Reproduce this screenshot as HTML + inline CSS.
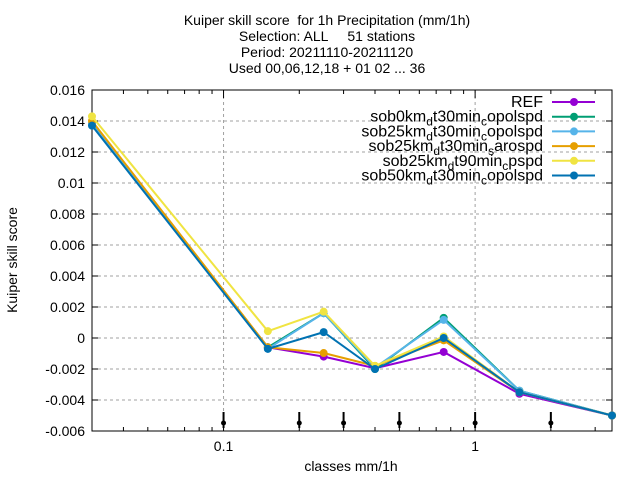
<!DOCTYPE html>
<html><head><meta charset="utf-8"><style>
body{margin:0;background:#fff}
svg{display:block;font-family:"Liberation Sans",sans-serif}
text{white-space:pre}
</style></head><body>
<svg id="chart" width="640" height="480" viewBox="0 0 640 480">
<g font-size="14" text-anchor="middle" fill="#000">
<text x="327" y="25" xml:space="preserve">Kuiper skill score  for 1h Precipitation (mm/1h)</text>
<text x="327" y="41" xml:space="preserve">Selection: ALL     51 stations</text>
<text x="327" y="57">Period: 20211110-20211120</text>
<text x="327" y="73">Used 00,06,12,18 + 01 02 ... 36</text>
</g>
<g id="grid"></g>
<g id="axes"></g>
<g id="series"></g>
<text x="17" y="260" font-size="14" text-anchor="middle" transform="rotate(-90 17 260)">Kuiper skill score</text>
<text x="351" y="471" font-size="14" text-anchor="middle">classes mm/1h</text>
<g id="legend"></g>
</svg>
<script>
const classes=[0.03,0.15,0.25,0.4,0.75,1.5,3.5];
const seriesNames=["REF","sob0km_d t30min_c opolspd","sob25km_d t30min_c opolspd","sob25km_d t30min_s arospd","sob25km_d t90min_c pspd","sob50km_d t30min_c opolspd"];
const seriesColors=["#9400d3","#009e73","#56b4e9","#e69f00","#f0e442","#0072b2"];
const ref=[0.0138,-0.0006,-0.0012,-0.00195,-0.0009,-0.0036,-0.005];
const sob0=[0.0138,-0.0006,0.0016,-0.002,0.0013,-0.0034,-0.005];
const sob25c=[0.0138,-0.0007,0.0016,-0.0019,0.00117,-0.0034,-0.005];
const sob25s=[0.0140,-0.0006,-0.00097,-0.0018,-0.00015,-0.0035,-0.005];
const sob25p=[0.0143,0.00044,0.0017,-0.0018,0.0001,-0.0035,-0.005];
const sob50=[0.0137,-0.0007,0.00038,-0.002,0.0,-0.0035,-0.005];
const allSeries=[ref,sob0,sob25c,sob25s,sob25p,sob50];
const yTicks=[0.016,0.014,0.012,0.01,0.008,0.006,0.004,0.002,0,-0.002,-0.004,-0.006];
const yTickLabels=["0.016","0.014","0.012","0.01","0.008","0.006","0.004","0.002","0","-0.002","-0.004","-0.006"];
const xTicks=[0.1,1];
const xTickLabels=["0.1","1"];
const markerX=[0.1,0.2,0.3,0.5,1,2];
const L=92,R=612,T=90,B=431,xmin=0.03,xmax=3.5,ymin=-0.006,ymax=0.016;
const NS="http://www.w3.org/2000/svg";
function X(v){return L+(Math.log10(v)-Math.log10(xmin))/(Math.log10(xmax)-Math.log10(xmin))*(R-L);}
function Y(v){return B-(v-ymin)/(ymax-ymin)*(B-T);}
function mk(tag,at,parent){const e=document.createElementNS(NS,tag);for(const k in at)e.setAttribute(k,at[k]);parent.appendChild(e);return e;}
const grid=document.getElementById('grid'),axes=document.getElementById('axes'),ser=document.getElementById('series'),leg=document.getElementById('legend');
yTicks.forEach((v,i)=>{
 if(v<ymax&&v>ymin){const g=mk('line',{x1:L,x2:R,y1:Y(v),y2:Y(v),stroke:'#a0a0a0','stroke-dasharray':'3,3'},grid);
 }
 mk('line',{x1:L,x2:L+6,y1:Y(v),y2:Y(v),stroke:'#000'},axes);
 mk('line',{x1:R-6,x2:R,y1:Y(v),y2:Y(v),stroke:'#000'},axes);
 const lb=mk('text',{x:L-7,y:Y(v)+5,'font-size':14,'text-anchor':'end'},axes);lb.textContent=yTickLabels[i];
 
});
xTicks.forEach((v,i)=>{
 const g=mk('line',{x1:X(v),x2:X(v),y1:T,y2:B,stroke:'#a0a0a0','stroke-dasharray':'3,3'},grid);
 
 mk('line',{x1:X(v),x2:X(v),y1:B,y2:B-8,stroke:'#000'},axes);
 mk('line',{x1:X(v),x2:X(v),y1:T,y2:T+8,stroke:'#000'},axes);
 const lb=mk('text',{x:X(v),y:B+20,'font-size':14,'text-anchor':'middle'},axes);lb.textContent=xTickLabels[i];
 
});
[0.04,0.05,0.06,0.07,0.08,0.09,0.2,0.3,0.4,0.5,0.6,0.7,0.8,0.9,2,3].forEach(v=>{
 mk('line',{x1:X(v),x2:X(v),y1:B,y2:B-4,stroke:'#000'},axes);
 mk('line',{x1:X(v),x2:X(v),y1:T,y2:T+4,stroke:'#000'},axes);
});
mk('rect',{x:L,y:T,width:R-L,height:B-T,fill:'none',stroke:'#000'},axes);
markerX.forEach(v=>{
 const m=mk('line',{x1:X(v),x2:X(v),y1:412,y2:428,stroke:'#000','stroke-width':2},axes);
 
 mk('circle',{cx:X(v),cy:423,r:2.5,fill:'#000'},axes);
});
allSeries.forEach((vals,s)=>{
 const g=mk('g',{},ser);
 
 const pts=vals.map((v,i)=>X(classes[i])+','+Y(v)).join(' ');
 mk('polyline',{points:pts,fill:'none',stroke:seriesColors[s],'stroke-width':2},g);
 vals.forEach((v,i)=>{const c=mk('circle',{cx:X(classes[i]),cy:Y(v),r:4,fill:seriesColors[s]},g);
  });
});
seriesNames.forEach((n,s)=>{
 const y=102+s*14.7;
 const g=mk('g',{},leg);
 
 const t=mk('text',{x:543,y:y+5,'font-size':16,'text-anchor':'end'},g);
 const parts=n.split(' ');
 let pendingUp=false;
 parts.forEach(p=>{const [a,b]=p.split('_');
  const t1=document.createElementNS(NS,'tspan');t1.textContent=a;if(pendingUp){t1.setAttribute('dy','-4');}t.appendChild(t1);pendingUp=false;
  if(b){const t2=document.createElementNS(NS,'tspan');t2.setAttribute('font-size','12');t2.setAttribute('dy','4');t2.textContent=b;t.appendChild(t2);pendingUp=true;}
 });
 mk('line',{x1:552,x2:595,y1:y,y2:y,stroke:seriesColors[s],'stroke-width':2},g);
 mk('circle',{cx:574,cy:y,r:4,fill:seriesColors[s]},g);
});
</script>
</body></html>
